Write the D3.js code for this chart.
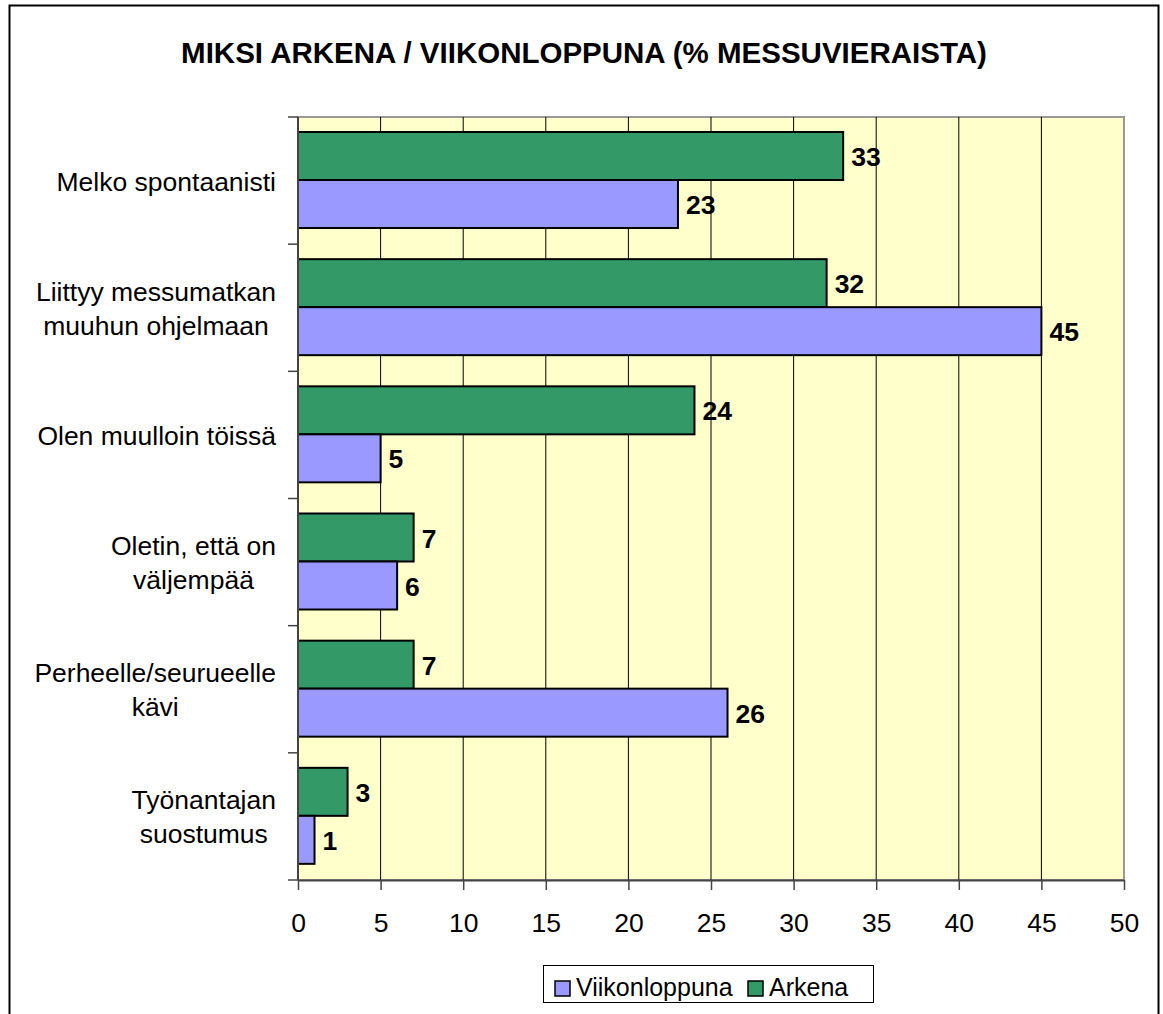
<!DOCTYPE html>
<html>
<head>
<meta charset="utf-8">
<script src="https://cdn.jsdelivr.net/npm/d3@7"></script>
<style>
  body { margin: 0; background: #fff; }
  text { font-family: "Liberation Sans", Arial, sans-serif; }
</style>
</head>
<body>
<svg id="chart" width="1163" height="1014"></svg>
<script>
'use strict';
var categories = [
  ['Melko spontaanisti'],
  ['Liittyy messumatkan', 'muuhun ohjelmaan'],
  ['Olen muulloin töissä'],
  ['Oletin, että on', 'väljempää'],
  ['Perheelle/seurueelle', 'kävi'],
  ['Työnantajan', 'suostumus']
];
var arkena = [33, 32, 24, 7, 7, 3];
var viikonloppuna = [23, 45, 5, 6, 26, 1];
var xTicks = [0, 5, 10, 15, 20, 25, 30, 35, 40, 45, 50];

var colArkena = '#339966';
var colViikko = '#9999ff';

var svg = d3.select('#chart');
var plotLeft = 298, plotRight = 1124, plotTop = 117, plotBottom = 880;
var fs = 26.5;

// outer frame
svg.append('rect')
    .attr('x', 9.5).attr('y', 5.5)
    .attr('width', 1149).attr('height', 1020)
    .attr('fill', '#fff').attr('stroke', '#000').attr('stroke-width', 2);

svg.append('text')
    .attr('x', 584).attr('y', 63)
    .attr('text-anchor', 'middle')
    .attr('font-size', 29.5).attr('font-weight', 'bold')
    .text('MIKSI ARKENA / VIIKONLOPPUNA (% MESSUVIERAISTA)');

var x = d3.scaleLinear().domain([0, 50]).range([plotLeft, plotRight]);
var y = d3.scaleBand().domain(d3.range(categories.length)).range([plotTop, plotBottom]);

svg.append('rect')
    .attr('x', plotLeft).attr('y', plotTop)
    .attr('width', plotRight - plotLeft).attr('height', plotBottom - plotTop)
    .attr('fill', '#ffffcc').attr('stroke', '#999').attr('stroke-width', 2);

svg.append('g').selectAll('line')
    .data(xTicks.slice(1, -1))
    .join('line')
    .attr('x1', function(d) { return x(d); }).attr('x2', function(d) { return x(d); })
    .attr('y1', plotTop).attr('y2', plotBottom)
    .attr('stroke', '#000').attr('stroke-width', 1);

var barH = 48;
var off = 15;

var g = svg.append('g');
categories.forEach(function(c, i) {
  var y0 = y(i) + off;
  g.append('rect')
      .attr('x', x(0)).attr('y', y0)
      .attr('width', x(arkena[i]) - x(0)).attr('height', barH)
      .attr('fill', colArkena).attr('stroke', '#000').attr('stroke-width', 2);
  g.append('rect')
      .attr('x', x(0)).attr('y', y0 + barH)
      .attr('width', x(viikonloppuna[i]) - x(0)).attr('height', barH)
      .attr('fill', colViikko).attr('stroke', '#000').attr('stroke-width', 2);
  g.append('text')
      .attr('x', x(arkena[i]) + 8).attr('y', y0 + barH / 2 + 10)
      .attr('font-size', fs).attr('font-weight', 'bold')
      .text(arkena[i]);
  g.append('text')
      .attr('x', x(viikonloppuna[i]) + 8).attr('y', y0 + barH * 1.5 + 10)
      .attr('font-size', fs).attr('font-weight', 'bold')
      .text(viikonloppuna[i]);
});

// axes
var xAxis = svg.append('g')
    .attr('transform', 'translate(0,' + plotBottom + ')')
    .call(d3.axisBottom(x).tickValues(xTicks).tickSize(10).tickSizeOuter(0));
xAxis.select('.domain').attr('stroke', '#444').attr('stroke-width', 2);
xAxis.selectAll('.tick line').attr('stroke', '#444').attr('stroke-width', 1.5);
xAxis.selectAll('.tick text')
    .attr('font-size', fs).attr('fill', '#000')
    .attr('font-family', '"Liberation Sans", Arial, sans-serif')
    .attr('dy', null).attr('y', 52);

var yTickPos = d3.range(categories.length + 1).map(function(i) {
  return plotTop + i * y.step();
});
svg.append('line')
    .attr('x1', plotLeft).attr('x2', plotLeft).attr('y1', plotTop).attr('y2', plotBottom)
    .attr('stroke', '#444').attr('stroke-width', 2);
svg.append('g').selectAll('line')
    .data(yTickPos).join('line')
    .attr('x1', plotLeft - 10).attr('x2', plotLeft)
    .attr('y1', function(d) { return d; }).attr('y2', function(d) { return d; })
    .attr('stroke', '#444').attr('stroke-width', 1.5);

// category labels: centered block, right edge at 276
categories.forEach(function(lines, i) {
  var t = svg.append('text').attr('font-size', fs).attr('text-anchor', 'middle');
  var cy = y(i) + y.bandwidth() / 2;
  var lh = 34;
  lines.forEach(function(l, k) {
    t.append('tspan').attr('x', 0)
        .attr('y', cy + 10 + (k - (lines.length - 1) / 2) * lh)
        .text(l);
  });
  var w = 0;
  t.selectAll('tspan').each(function() { w = Math.max(w, this.getComputedTextLength()); });
  t.selectAll('tspan').attr('x', 276 - w / 2);
});

// legend
var leg = svg.append('g');
leg.append('rect')
    .attr('x', 543.5).attr('y', 965.5).attr('width', 330).attr('height', 37)
    .attr('fill', '#fff').attr('stroke', '#000').attr('stroke-width', 1);
var items = [['Viikonloppuna', colViikko, 555], ['Arkena', colArkena, 748]];
items.forEach(function(it) {
  leg.append('rect')
      .attr('x', it[2]).attr('y', 981).attr('width', 15).attr('height', 15)
      .attr('fill', it[1]).attr('stroke', '#000').attr('stroke-width', 1.5);
  leg.append('text')
      .attr('x', it[2] + 21).attr('y', 996)
      .attr('font-size', 25).text(it[0]);
});
</script>
</body>
</html>
